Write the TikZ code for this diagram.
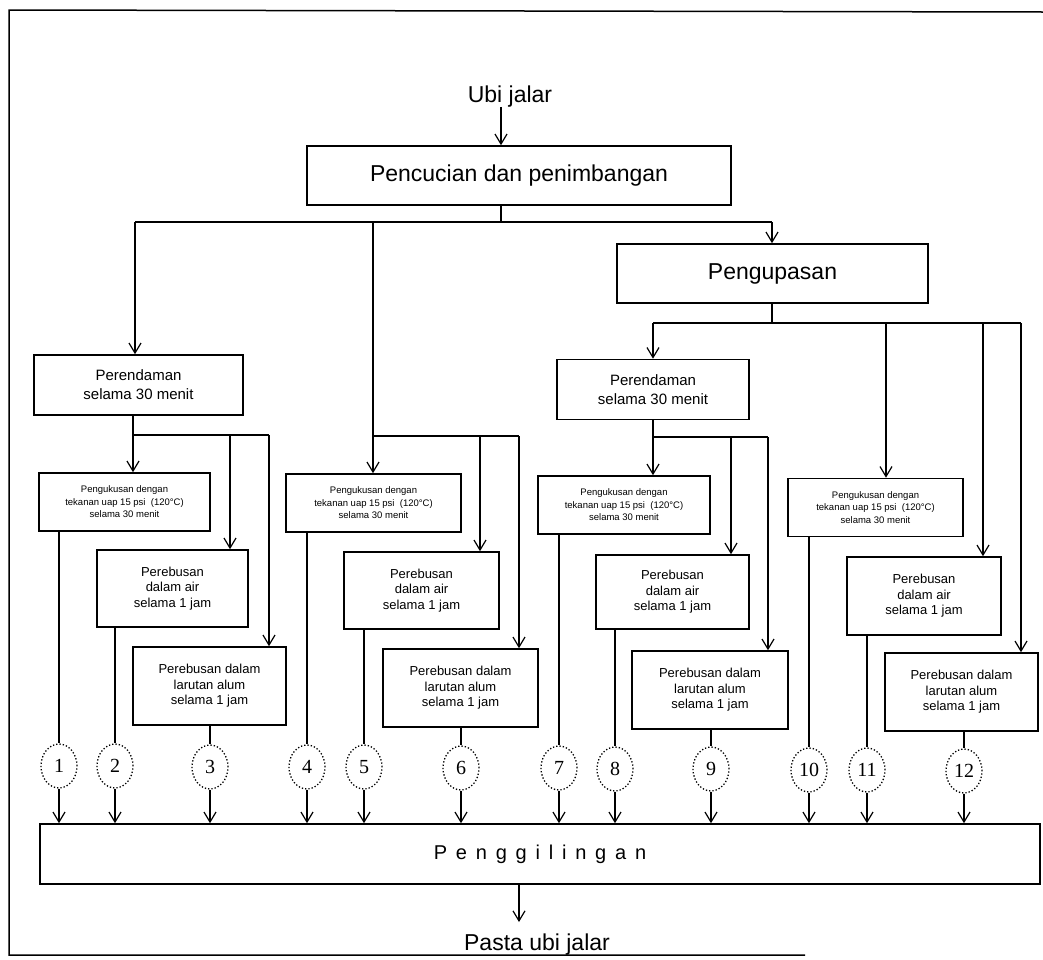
\documentclass[tikz,border=0pt]{standalone}
\usepackage{fontspec}
\setmainfont{Liberation Sans}
\newfontfamily\numfont{Liberation Serif}
\usetikzlibrary{arrows.meta,shapes.geometric}
\newcommand\fbig{\fontsize{23}{27}\selectfont}
\newcommand\fmid{\fontsize{15}{19}\selectfont}
\newcommand\fsm{\fontsize{13}{15.5}\selectfont}
\newcommand\ftiny{\fontsize{9.5}{12.5}\selectfont}
\newcommand\lsp{\kern8.8pt}
\begin{document}
\begin{tikzpicture}[x=1pt,y=-1pt,
  box/.style={draw,line width=1.6pt,align=center,inner sep=0pt},
  ln/.style={line width=1.2pt},
  arr/.style={line width=1.2pt,-{Straight Barb[length=10pt,width=12pt,line width=1.2pt]}},
  circ/.style={draw,ellipse,dotted,line width=1.3pt,minimum width=36pt,minimum height=44pt,inner sep=0pt,font=\numfont\fontsize{20}{22}\selectfont},
  kuk/.style={box,minimum width=172pt,minimum height=58pt,font=\ftiny},
  reb/.style={box,minimum width=153pt,minimum height=77pt,font=\fsm},
  ren/.style={box,minimum height=60pt,font=\fmid}]
\useasboundingbox (0,0) rectangle (1043,959);
% frame
\draw[line width=1.5pt] (1043,12) -- (9,10) -- (9,955) -- (805,955);

% top
\node[inner sep=0pt,anchor=base,font=\fbig] (ubi) at (510,102) {Ubi jalar};
\node[box,minimum width=424pt,minimum height=59pt,font=\fbig] (pc) at (519,175.5) {Pencucian dan penimbangan};
\node[box,minimum width=311pt,minimum height=59pt,font=\fbig] (pk) at (772.5,273.5) {Pengupasan};

% perendaman
\node[ren,minimum width=209pt] (r1) at (138.5,385) {Perendaman\\selama 30 menit};
\node[ren,minimum width=192pt] (r2) at (653,389.5) {Perendaman\\selama 30 menit};

% pengukusan
\node[kuk,minimum width=171pt] (k1) at (124.5,502) {Pengukusan dengan\\tekanan uap 15 psi\ \ (120°C)\\selama 30 menit};
\node[kuk,minimum width=175pt] (k2) at (373.5,503) {Pengukusan dengan\\tekanan uap 15 psi\ \ (120°C)\\selama 30 menit};
\node[kuk] (k3) at (624,505) {Pengukusan dengan\\tekanan uap 15 psi\ \ (120°C)\\selama 30 menit};
\node[kuk,minimum width=175pt] (k4) at (875.5,507.5) {Pengukusan dengan\\tekanan uap 15 psi\ \ (120°C)\\selama 30 menit};

% perebusan air
\node[reb,minimum width=151pt] (b1) at (172.5,588.5) {Perebusan\\dalam air\\selama 1 jam};
\node[reb,minimum width=155pt] (b2) at (421.5,590.5) {Perebusan\\dalam air\\selama 1 jam};
\node[reb,minimum height=74pt] (b3) at (672.5,592) {Perebusan\\dalam air\\selama 1 jam};
\node[reb,minimum width=154pt,minimum height=78pt] (b4) at (924,596) {Perebusan\\dalam air\\selama 1 jam};

% perebusan alum
\node[reb,minimum height=78pt] (a1) at (209.5,686) {Perebusan dalam\\larutan alum\\selama 1 jam};
\node[reb,minimum width=155pt,minimum height=78pt] (a2) at (460.5,688) {Perebusan dalam\\larutan alum\\selama 1 jam};
\node[reb,minimum width=156pt,minimum height=78pt] (a3) at (710,690) {Perebusan dalam\\larutan alum\\selama 1 jam};
\node[reb,minimum height=78pt] (a4) at (961.5,692) {Perebusan dalam\\larutan alum\\selama 1 jam};

% circles
\node[circ] (c1) at (59,766) {1};
\node[circ] (c2) at (115,766) {2};
\node[circ] (c3) at (210,767) {3};
\node[circ] (c4) at (307,767) {4};
\node[circ] (c5) at (364,767) {5};
\node[circ] (c6) at (461,768) {6};
\node[circ] (c7) at (559,768) {7};
\node[circ] (c8) at (615,769) {8};
\node[circ] (c9) at (711,769) {9};
\node[circ] (c10) at (809,770) {10};
\node[circ] (c11) at (867,770) {11};
\node[circ] (c12) at (964,771) {12};

% penggilingan
\node[box,minimum width=1000pt,minimum height=60pt,font=\fontsize{20}{24}\selectfont] (pg) at (540,854)
  {P\lsp e\lsp n\lsp g\lsp g\lsp i\lsp l\lsp i\lsp n\lsp g\lsp a\lsp n};
\node[inner sep=0pt,anchor=base,font=\fbig] (pasta) at (537,950) {Pasta ubi jalar};

% connectors top
\coordinate (u1) at (501,222);
\coordinate (u1a) at (135,222);
\coordinate (u1b) at (373,222);
\coordinate (u1c) at (772,222);
\draw[arr] (ubi.south -| u1) -- (pc.north -| u1);
\draw[ln] (pc.south -| u1) -- (u1);
\draw[ln] (u1a) -- (u1c);
\draw[arr] (u1a) -- (r1.north -| u1a);
\draw[arr] (u1b) -- (k2.north -| u1b);
\draw[arr] (u1c) -- (pk.north -| u1c);

\coordinate (u2) at (772,323);
\coordinate (u2a) at (653,323);
\coordinate (u2b) at (886,323);
\coordinate (u2c) at (983,323);
\coordinate (u2d) at (1021,323);
\draw[ln] (pk.south -| u2) -- (u2);
\draw[ln] (u2a) -- (u2d);
\draw[arr] (u2a) -- (r2.north -| u2a);
\draw[arr] (u2b) -- (k4.north -| u2b);
\draw[arr] (u2c) -- (b4.north -| u2c);
\draw[arr] (u2d) -- (a4.north -| u2d);

% under r1
\coordinate (v1) at (133,435);
\coordinate (v1b) at (230,435);
\coordinate (v1c) at (269,435);
\draw[ln] (r1.south -| v1) -- (v1) -- (v1c);
\draw[arr] (v1) -- (k1.north -| v1);
\draw[arr] (v1b) -- (b1.north -| v1b);
\draw[arr] (v1c) -- (a1.north -| v1c);

% second column
\coordinate (v2) at (373,436);
\coordinate (v2b) at (480,436);
\coordinate (v2c) at (519,436);
\draw[ln] (v2) -- (v2c);
\draw[arr] (v2b) -- (b2.north -| v2b);
\draw[arr] (v2c) -- (a2.north -| v2c);

% under r2
\coordinate (v3) at (653,437);
\coordinate (v3b) at (731,437);
\coordinate (v3c) at (768,437);
\draw[ln] (r2.south -| v3) -- (v3) -- (v3c);
\draw[arr] (v3) -- (k3.north -| v3);
\draw[arr] (v3b) -- (b3.north -| v3b);
\draw[arr] (v3c) -- (a3.north -| v3c);

% into circles
\draw[ln] (k1.south -| c1) -- (c1.north);
\draw[ln] (b1.south -| c2) -- (c2.north);
\draw[ln] (a1.south -| c3) -- (c3.north);
\draw[ln] (k2.south -| c4) -- (c4.north);
\draw[ln] (b2.south -| c5) -- (c5.north);
\draw[ln] (a2.south -| c6) -- (c6.north);
\draw[ln] (k3.south -| c7) -- (c7.north);
\draw[ln] (b3.south -| c8) -- (c8.north);
\draw[ln] (a3.south -| c9) -- (c9.north);
\draw[ln] (k4.south -| c10) -- (c10.north);
\draw[ln] (b4.south -| c11) -- (c11.north);
\draw[ln] (a4.south -| c12) -- (c12.north);

% circles to penggilingan
\foreach \i in {1,...,12} {
  \draw[arr] (c\i.south) -- (pg.north -| c\i);
}

% output
\coordinate (w1) at (519,922);
\draw[arr] (pg.south -| w1) -- (w1);
\end{tikzpicture}
\end{document}
